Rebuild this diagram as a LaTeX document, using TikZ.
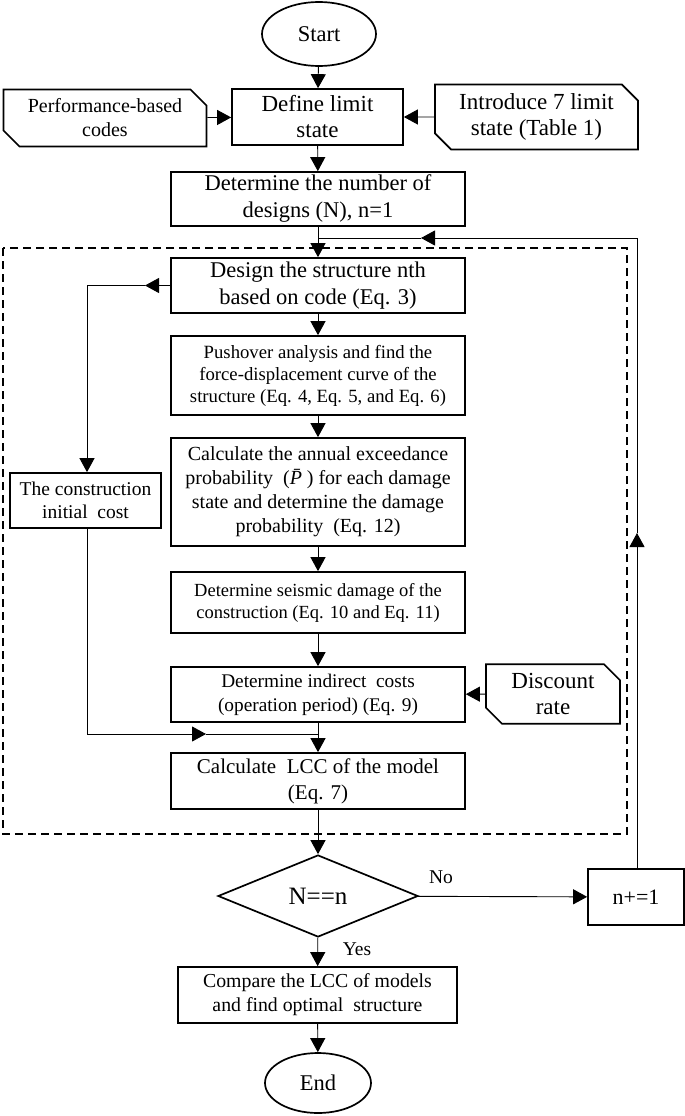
\documentclass[tikz,border=0pt]{standalone}
\usepackage{fontspec}
\setmainfont{Liberation Serif}
\usetikzlibrary{shapes.geometric,shapes.misc,arrows.meta}
\begin{document}
\begin{tikzpicture}[x=1pt,y=-1pt,
  box/.style={draw,line width=1.7pt,align=center,inner sep=1pt},
  big/.style={font=\fontsize{22.5}{27}\selectfont},
  small/.style={font=\fontsize{18.7}{22}\selectfont},
  card/.style={box,chamfered rectangle,chamfered rectangle corners={north east,south west},chamfered rectangle xsep=8pt,chamfered rectangle ysep=8pt},
  conn/.style={line width=0.9pt,-{Triangle[length=14pt,width=15pt]}},
  line/.style={line width=0.9pt},
  lbl/.style={font=\fontsize{19.5}{22}\selectfont,inner sep=0pt}]
\useasboundingbox (0,0) rectangle (685,1116);
\draw[line width=1.7pt,dash pattern=on 8pt off 5pt] (3,248) rectangle (627,834);
\node[box,big,ellipse,minimum width=114pt,minimum height=64pt] (start) at (319,34) {Start};
\node[box,big,minimum width=171pt,minimum height=56pt,font=\fontsize{23}{26}\selectfont] (define) at (317.5,117) {Define limit\\state};
\node[card,minimum width=203pt,minimum height=57pt,font=\fontsize{20}{24}\selectfont] (perf) at (105,118) {Performance-based\\codes};
\node[card,minimum width=203pt,minimum height=56pt,font=\fontsize{23}{26}\selectfont] (intro) at (536.5,117) {Introduce 7 limit\\state (Table 1)};
\node[box,big,minimum width=294pt,minimum height=54pt] (number) at (318,199) {Determine the number of\\designs (N), n=1};
\node[box,big,minimum width=294pt,minimum height=55pt] (design) at (318,285.5) {Design the structure nth\\based on code (Eq. 3)};
\node[box,small,minimum width=294pt,minimum height=79pt] (push) at (318,375.5) {Pushover analysis and find the\\force-displacement curve of the\\structure (Eq. 4, Eq. 5, and Eq. 6)};
\node[box,minimum width=294pt,minimum height=108pt,font=\fontsize{20}{24}\selectfont] (annual) at (318,492) {Calculate the annual exceedance\\probability \ (\textit{\=P}) for each damage\\state and determine the damage\\probability \ (Eq. 12)};
\node[box,minimum width=151pt,minimum height=55pt,font=\fontsize{19.5}{23}\selectfont] (constr) at (85.5,500.5) {The construction\\initial \ cost};
\node[box,minimum width=294pt,minimum height=61pt,font=\fontsize{18.5}{22}\selectfont] (seismic) at (318,602.5) {Determine seismic damage of the\\construction (Eq. 10 and Eq. 11)};
\node[box,minimum width=294pt,minimum height=55pt,font=\fontsize{19.3}{24}\selectfont] (indirect) at (318,694.5) {Determine indirect \ costs\\(operation period) (Eq. 9)};
\node[card,minimum width=134pt,minimum height=56pt,font=\fontsize{23}{26}\selectfont] (discount) at (553,694) {Discount\\rate};
\node[box,minimum width=294pt,minimum height=56pt,font=\fontsize{21}{26}\selectfont] (lcc) at (318,781) {Calculate \ LCC of the model\\(Eq. 7)};
\node[box,diamond,minimum width=200pt,minimum height=82pt,inner sep=0pt,font=\fontsize{25}{28}\selectfont] (dec) at (318,896) {N==n};
\node[box,minimum width=96pt,minimum height=56pt,font=\fontsize{22}{26}\selectfont] (inc) at (636,897) {n+=1};
\node[box,minimum width=279pt,minimum height=56pt,font=\fontsize{19.8}{24}\selectfont] (compare) at (317.5,995) {Compare the LCC of models\\and find optimal \ structure};
\node[box,big,ellipse,minimum width=106pt,minimum height=60pt] (end) at (318,1083) {End};
\node[lbl] (no) at (441,877) {No};
\node[lbl] (yes) at (357,949) {Yes};
% connectors
\draw[conn] (start) -- (define);
\draw[conn] (perf) -- (define);
\draw[conn] (intro) -- (define);
\draw[conn] (define) -- (number);
\draw[conn] (number) -- (design);
\draw[conn] (design) -- (push);
\draw[conn] (push) -- (annual);
\draw[conn] (annual) -- (seismic);
\draw[conn] (seismic) -- (indirect);
\draw[conn] (indirect) -- (lcc);
\draw[conn] (discount) -- (indirect);
\draw[conn] (lcc) -- (dec);
\draw[conn] (dec) -- (inc);
\draw[conn] (dec) -- (compare);
\draw[conn] (compare) -- (end);
% design -> construction cost
\coordinate (d1) at (145,285.5);
\coordinate (d2) at (87,285.5);
\draw[conn] (design.west) -- (d1);
\draw[line] (d1) -- (d2);
\draw[conn] (d2) -- (constr.north -| d2);
% construction cost -> lcc
\coordinate (c1) at (87,734);
\coordinate (c2) at (206,734);
\coordinate (c3) at (318,734);
\draw[line] (constr.south -| c1) -- (c1);
\draw[conn] (c1) -- (c2);
\draw[line] (c2) -- (c3);
% loop back
\coordinate (l1) at (637,533);
\coordinate (l2) at (637,238);
\coordinate (l3) at (421,238);
\coordinate (l4) at (318,238);
\draw[conn] (inc.north -| l1) -- (l1);
\draw[line] (l1) -- (l2);
\draw[conn] (l2) -- (l3);
\draw[line] (l3) -- (l4);
\end{tikzpicture}
\end{document}
